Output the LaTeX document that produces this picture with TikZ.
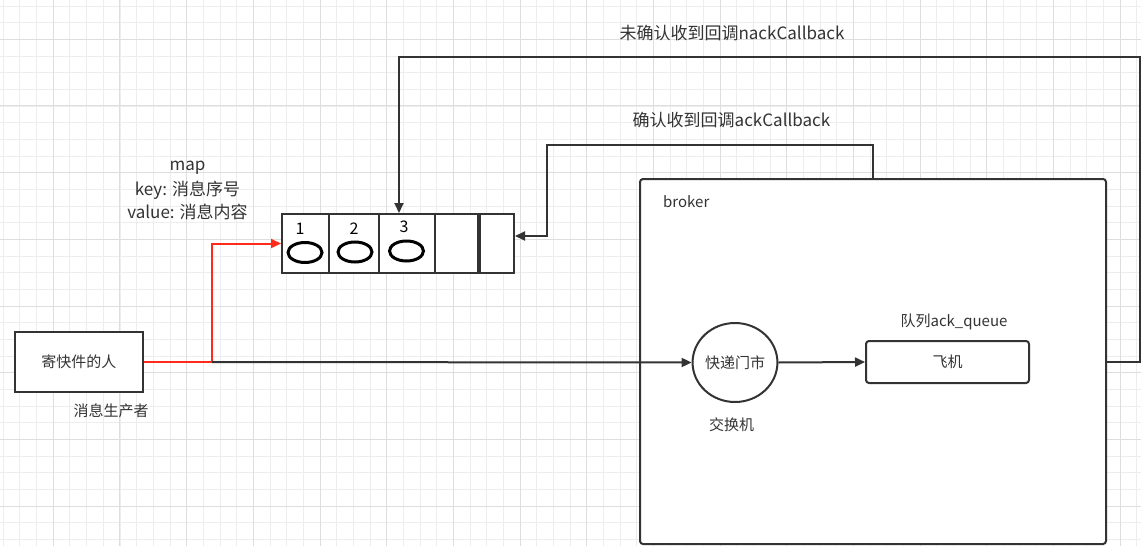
\documentclass[tikz,border=0pt]{standalone}
\usepackage{fontspec}
\setmainfont{Noto Sans CJK SC}
\usetikzlibrary{arrows.meta,calc,shapes.geometric}
\definecolor{ln}{HTML}{333333}
\definecolor{txt}{HTML}{333333}
\definecolor{rd}{HTML}{FF2A1A}
\definecolor{gminor}{HTML}{EDEDED}
\definecolor{gmajor}{HTML}{DEDEDE}
\begin{document}
\begin{tikzpicture}[x=1pt,y=-1pt,
  line/.style={draw=ln,line width=2pt},
  arr/.style={draw=ln,line width=2pt,-{Triangle[length=10pt,width=9pt]}},
  redarr/.style={draw=rd,line width=2pt,-{Triangle[length=10pt,width=9pt]}},
  box/.style={draw=ln,line width=2pt,fill=white,inner sep=0pt,text=txt,font=\fontsize{15}{18}\selectfont},
  cell/.style={draw=ln,line width=2pt,fill=white,minimum height=59pt,inner sep=0pt},
  egg/.style={ellipse,draw=black,line width=3pt,minimum width=34pt,minimum height=20pt,inner sep=0pt},
  lbl/.style={text=txt,inner sep=0pt,font=\fontsize{15}{18}\selectfont},
  big/.style={text=txt,inner sep=0pt,font=\fontsize{17}{20}\selectfont},
  num/.style={text=black,inner sep=0pt,font=\fontsize{16}{18}\selectfont}]
\useasboundingbox (0,0) rectangle (1141,546);
\fill[white] (0,0) rectangle (1141,546);
% grid
\foreach \i in {0,...,68} \draw[gminor,line width=1pt] ({3.33+16.667*\i},0) -- ++(0,546);
\foreach \i in {0,...,32} \draw[gminor,line width=1pt] (0,{6+16.667*\i}) -- ++(1141,0);
\foreach \i in {0,...,16} \draw[gmajor,line width=1pt] ({53.33+66.667*\i},0) -- ++(0,546);
\foreach \i in {0,...,7} \draw[gmajor,line width=1pt] (0,{39.33+66.667*\i}) -- ++(1141,0);

% broker
\node[box,rounded corners=3pt,minimum width=466pt,minimum height=365pt] (broker) at (873,361.5) {};
\node[lbl,anchor=west] (brokerlbl) at (663,202) {broker};

% sender
\node[box,minimum width=128pt,minimum height=60pt] (sender) at (79,362) {寄快件的人};
\node[lbl] (senderlbl) at (111,411) {消息生产者};

% map queue
\node[cell,minimum width=47pt] (c1) at (305.5,243.5) {};
\node[cell,minimum width=50pt] (c2) at (354,243.5) {};
\node[cell,minimum width=56pt] (c3) at (407,243.5) {};
\node[cell,minimum width=43pt] (c4) at (456.5,243.5) {};
\node[cell,minimum width=36pt] (c5) at (496,243.5) {};
\draw[draw=ln,line width=3pt] (c4.north east) -- (c4.south east);
\node[egg] (e1) at (305,252.5) {};
\node[egg] (e2) at (355,252) {};
\node[egg] (e3) at (406.5,251) {};
\node[num] (n1lbl) at (300,229) {1};
\node[num] (n2lbl) at (354,229) {2};
\node[num] (n3lbl) at (404,227) {3};

\node[big] (maplbl1) at (187.5,168) {map};
\node[big] (maplbl2) at (187.5,190.5) {key: 消息序号};
\node[big] (maplbl3) at (187.5,212) {value: 消息内容};

% exchange and queue
\node[box,ellipse,minimum width=84pt,minimum height=79pt] (ex) at (735,362.5) {快递门市};
\node[lbl] (exlbl) at (731.5,425) {交换机};
\node[box,rounded corners=3pt,minimum width=163pt,minimum height=42pt] (plane) at (947.5,362) {飞机};
\node[lbl] (planelbl) at (954,322) {队列ack\_queue};

% connectors
\coordinate (j) at (212,362);
\draw[redarr] (sender.east |- j) -- (j) |- (c1.west);
\draw[arr] (j) -- (ex.west);
\draw[arr] (ex.east) -- (plane.west);

\coordinate (nk1) at (1140,57);
\coordinate (nk2) at (399,57);
\draw[arr] (broker.east |- plane.center) -| (nk1) -- (nk2) -- (nk2 |- c3.north);
\node[big] (nacklbl) at (732,33) {未确认收到回调nackCallback};

\coordinate (ak1) at (873,145);
\coordinate (ak2) at (547,145);
\coordinate (ak3) at (547,236);
\draw[arr] (broker.north) -- (ak1) -- (ak2) -- (ak3) -- (ak3 -| c5.east);
\node[big] (acklbl) at (731.5,120) {确认收到回调ackCallback};
\end{tikzpicture}
\end{document}
